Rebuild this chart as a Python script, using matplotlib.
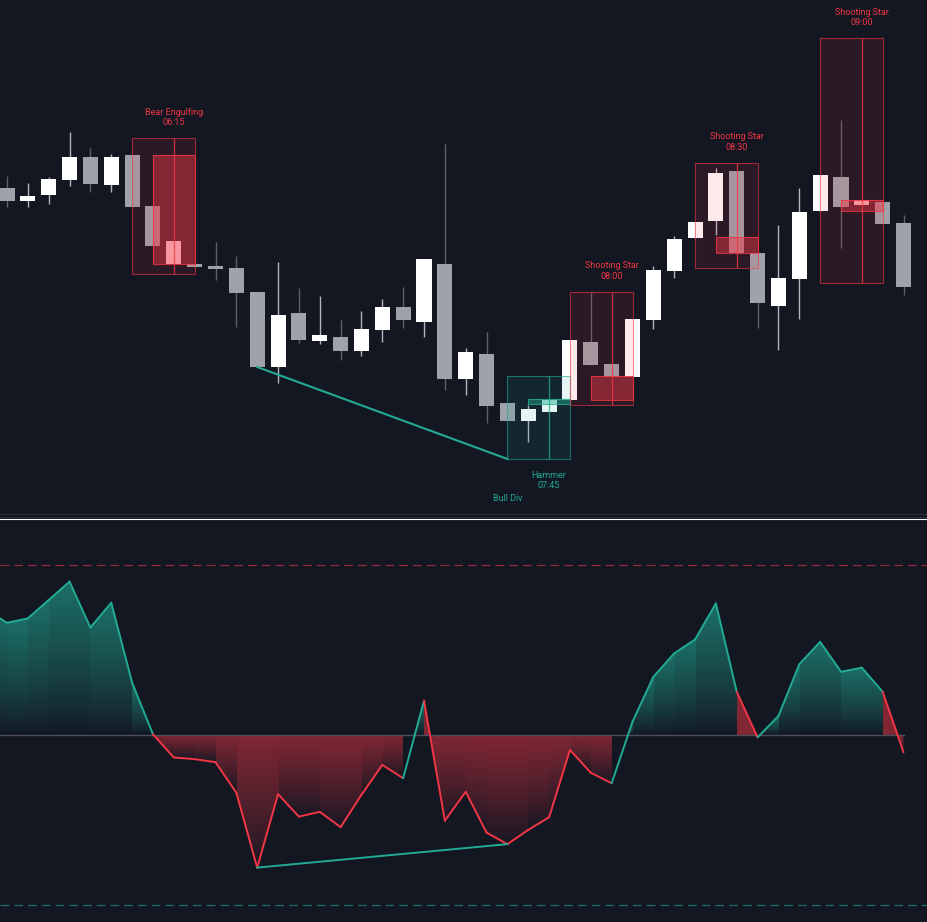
import numpy as np
import matplotlib.pyplot as plt
from matplotlib.patches import Rectangle, Polygon
from matplotlib.lines import Line2D
from matplotlib.colors import to_rgb

# 5 minute candles, first visible bar is 05:35
opens = [312, 299.3, 305.3, 320, 343, 315.3, 345, 294, 235.7, 236, 234.3, 232.3, 208, 133,
         187.3, 159, 163.3, 149, 170, 193.3, 178, 236, 121.3, 146, 97, 79, 88, 100, 158, 136,
         123.3, 180, 229, 262.3, 279.3, 329, 246.7, 194.3, 221.3, 289.3, 322.7, 295, 298, 277]
highs = [324, 317.3, 323.3, 368.3, 352, 346, 345, 294, 259, 236, 258.3, 244, 208, 238.3,
         212.3, 204, 180, 189.3, 200.7, 213.3, 241, 356, 152.3, 168.3, 97, 95, 100, 160, 208.3, 136,
         181, 234.3, 264, 278, 331.7, 329, 246.7, 275, 311.7, 325, 380, 300, 298, 285]
lows = [293, 293, 296, 314.3, 308.3, 308.3, 293.3, 254, 235.7, 233.3, 220, 173.3, 133, 116.7,
        156.7, 156, 140, 144, 157.7, 172.3, 163.3, 110, 105, 76.7, 79, 57.7, 88, 100, 135, 123.3,
        123.3, 170.7, 221.7, 262.3, 265, 246.7, 172.3, 150, 181, 289.3, 251.7, 295, 276.3, 205]
closes = [299.3, 304, 321, 343, 316.3, 343, 293.3, 254, 259, 233.3, 231, 206.7, 133, 185.3,
          160, 165, 149, 171, 193.3, 180, 241, 121, 148, 94.3, 79, 91, 100, 160, 135, 123.3,
          181, 230, 261, 278, 327.3, 246.7, 196.7, 221.7, 287.7, 325, 293.3, 300, 276.3, 213.3]

# detected patterns
pattern_bar = [8, 26, 29, 35, 41]
pattern_name = ["Bear Engulfing", "Hammer", "Shooting Star", "Shooting Star", "Shooting Star"]
pattern_time = ["06:15", "07:45", "08:00", "08:30", "09:00"]
pattern_bull = [False, True, False, False, False]
zone_top = [362, 124, 208.3, 337.3, 462]
zone_bottom = [225.7, 41, 95, 231.7, 217.3]
core_top = [345, 101, 124, 263.3, 300]
core_bottom = [235.7, 96, 100, 246.7, 289.3]

# oscillator, starts one bar before the first visible candle
osc_vals = [36.9, 33.0, 34.3, 39.7, 45.1, 31.6, 38.9, 15.4, 0.2, -6.6, -7.1, -8.0, -17.0, -39.0,
            -17.4, -24.0, -22.6, -27.1, -17.6, -8.8, -12.7, 10.1, -25.2, -16.7, -28.7, -32.1,
            -27.9, -24.2, -4.4, -11.1, -14.2, 3.9, 17.1, 24.0, 28.1, 38.7, 12.7, -0.7, 5.6, 20.8,
            27.4, 18.6, 19.8, 12.7, -5.1]
osc_state = [1] * 9 + [0] * 12 + [1] + [0] * 9 + [1] * 6 + [0] + [1] * 6 + [0]
osc_levels = [50, -50]

# bullish divergence
div_bars = [12, 24]
div_price = [133, 41]
div_osc = [-39.0, -32.1]

bg = "#131722"
bull_col = "#22ab94"
bear_col = "#f23645"
up_body = "#ffffff"
down_body = "#9fa2ab"

W, H = 927, 922
fig = plt.figure(figsize=(W / 100, H / 100), dpi=100, facecolor=bg)
ax_p = fig.add_axes([0, 1 - 518 / H, 1, 518 / H])
ax_o = fig.add_axes([0, 0, 1, 402 / H])
for ax in (ax_p, ax_o):
  ax.set_facecolor(bg)
  ax.axis("off")

# candles
x = np.arange(len(opens))
o = np.array(opens)
c = np.array(closes)
up = c >= o
body_col = np.where(up, up_body, down_body)
wick_col = np.where(up, "#b2b5be", "#5d606b")
ax_p.vlines(x, lows, highs, colors=wick_col, lw=1, zorder=2)
ax_p.bar(x, np.maximum(np.abs(c - o), 2.5), bottom=np.minimum(o, c), width=0.72,
         color=body_col, zorder=3)

# pattern zones
for i in range(len(pattern_bar)):
  b = pattern_bar[i]
  col = bull_col if pattern_bull[i] else bear_col
  ax_p.add_patch(Rectangle((b - 2, zone_bottom[i]), 3, zone_top[i] - zone_bottom[i],
                           facecolor=col, alpha=0.11, edgecolor="none", zorder=4))
  ax_p.add_patch(Rectangle((b - 2, zone_bottom[i]), 3, zone_top[i] - zone_bottom[i],
                           facecolor="none", edgecolor=col, alpha=0.6, lw=0.8, zorder=5))
  ax_p.add_patch(Rectangle((b - 1, core_bottom[i]), 2, core_top[i] - core_bottom[i],
                           facecolor=col, alpha=0.45, edgecolor="none", zorder=4))
  ax_p.add_patch(Rectangle((b - 1, core_bottom[i]), 2, core_top[i] - core_bottom[i],
                           facecolor="none", edgecolor=col, alpha=0.8, lw=0.8, zorder=5))
  ax_p.vlines(b, zone_bottom[i], zone_top[i], colors=col, alpha=0.8, lw=0.9, zorder=5)
  label = f"{pattern_name[i]}\n{pattern_time[i]}"
  if pattern_bull[i]:
    ax_p.annotate(label, xy=(b, zone_bottom[i]), xytext=(0, -12), textcoords="offset pixels",
                  ha="center", va="top", fontsize=6.5, family="Roboto", color=col,
                  linespacing=1.2)
  else:
    ax_p.annotate(label, xy=(b, zone_top[i]), xytext=(0, 11), textcoords="offset pixels",
                  ha="center", va="bottom", fontsize=6.5, family="Roboto", color=col,
                  linespacing=1.2)

ax_p.plot(div_bars, div_price, color=bull_col, lw=1.5, zorder=6)
ax_p.annotate("Bull Div", xy=(div_bars[1], div_price[1]), xytext=(0, -35),
              textcoords="offset pixels", ha="center", va="top", fontsize=6.5,
              family="Roboto", color=bull_col)

ax_p.set_xlim(-7 / 20.85, 920 / 20.85)
ax_p.set_ylim(-18, 500)

# oscillator
ox = np.arange(-1, len(opens))
ov = np.array(osc_vals)
st = np.array(osc_state)
ylo, yhi = (735 - 922) / 3.4, (735 - 520) / 3.4

# gradient fill: one column strip per segment, strong at the upper edge
seg_top = np.where(st == 1, np.maximum(np.maximum(ov, np.roll(ov, 1)), 0.5), 0)
seg_bot = np.where(st == 1, 0, np.minimum(np.minimum(ov, np.roll(ov, 1)), -0.5))
seg_amax = np.where(st == 1, 0.6, 0.5)
gx = np.linspace(ox[0], ox[-1], 1400)
gy = np.linspace(yhi, ylo, 700)
seg = np.clip(np.searchsorted(ox, gx, side="right"), 1, len(ox) - 1)
t = np.clip((gy[:, None] - seg_bot[seg][None, :]) / (seg_top[seg] - seg_bot[seg])[None, :], 0, 1)
img = np.zeros((len(gy), len(gx), 4))
img[..., :3] = np.where(st[seg][None, :, None] == 1, to_rgb(bull_col), to_rgb(bear_col))
img[..., 3] = seg_amax[seg][None, :] * t ** 0.8
poly = Polygon([(ox[0], 0)] + list(zip(ox, ov)) + [(ox[-1], 0)], closed=True,
               facecolor="none", edgecolor="none")
ax_o.add_patch(poly)
im = ax_o.imshow(img, extent=(ox[0], ox[-1], ylo, yhi), aspect="auto", origin="upper",
                 interpolation="nearest", zorder=1)
im.set_clip_path(poly)

for i in range(1, len(ox)):
  col = bull_col if osc_state[i] else bear_col
  ax_o.plot(ox[i - 1:i + 1], ov[i - 1:i + 1], color=col, lw=1.4, solid_capstyle="round", zorder=4)

ax_o.plot([ox[0], ox[-1]], [0, 0], color="#4a4e5a", lw=1, zorder=2)
ax_o.axhline(osc_levels[0], color=bear_col, alpha=0.6, lw=0.9, ls=(0, (7, 4)))
ax_o.axhline(osc_levels[1], color=bull_col, alpha=0.6, lw=0.9, ls=(0, (7, 4)))
ax_o.plot(div_bars, div_osc, color=bull_col, lw=1.4, zorder=5)
ax_o.set_xlim(-7 / 20.85, 920 / 20.85)
ax_o.set_ylim(ylo, yhi)

# pane separator
for yy, cc in [(514, "#2a2e39"), (516.5, "#2a2e39"), (519, "#ffffff")]:
  fig.add_artist(Line2D([0, 1], [1 - yy / H] * 2, color=cc, lw=0.8, transform=fig.transFigure))

fig.savefig("out.png", dpi=100, facecolor=bg)
